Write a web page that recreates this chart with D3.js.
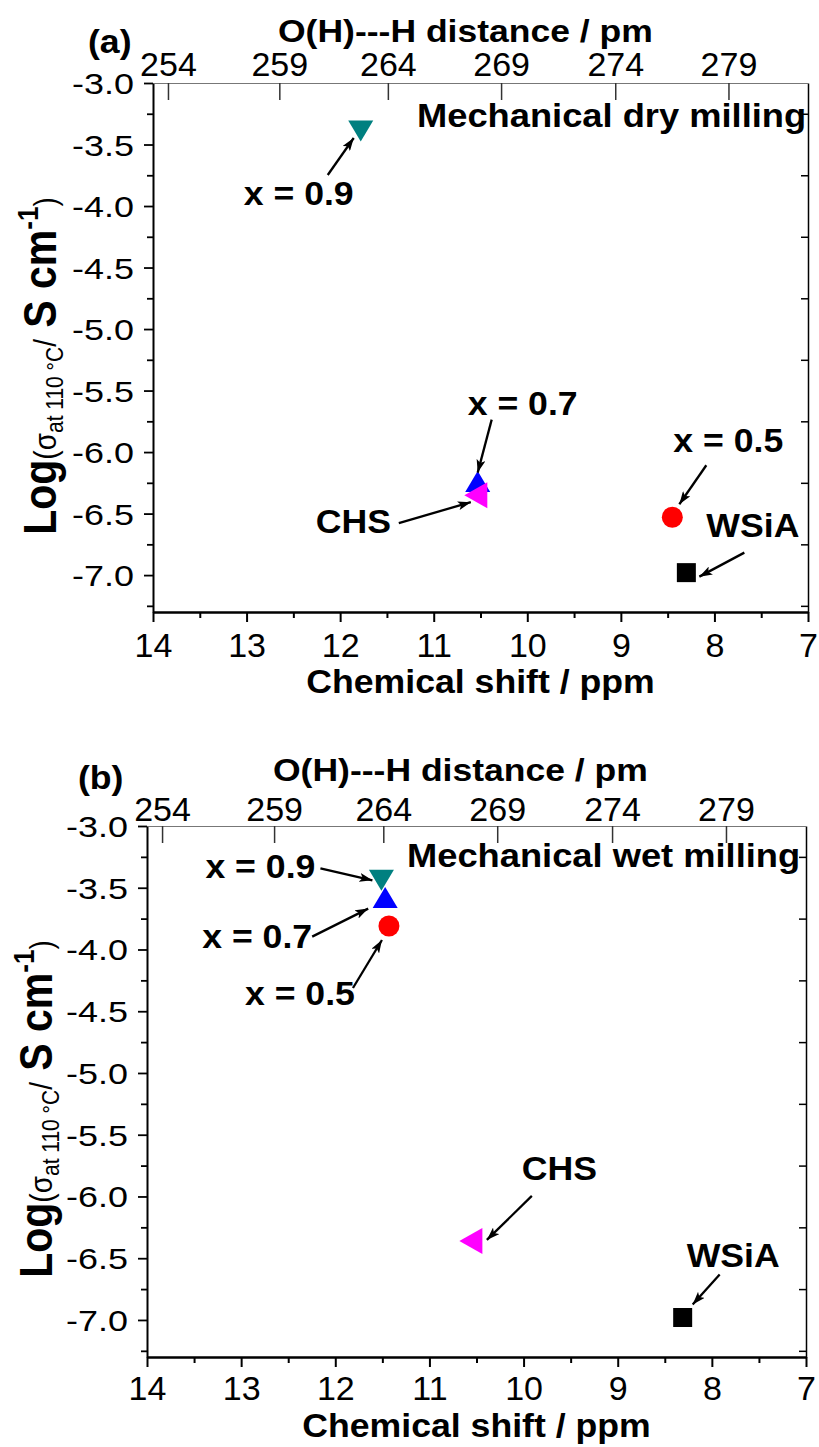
<!DOCTYPE html>
<html>
<head>
<meta charset="utf-8">
<script src="https://cdnjs.cloudflare.com/ajax/libs/d3/7.8.5/d3.min.js"></script>
<style>
  body { margin: 0; background: #fff; }
  svg { display: block; font-family: "Liberation Sans", Arial, sans-serif; }
</style>
</head>
<body>
<svg width="819" height="1447"></svg>
<script>
// samples, in the order both panels list them
const samples = ["WSiA", "x = 0.5", "x = 0.7", "x = 0.9", "CHS"];
const symbolShapes = ["square", "circle", "triangleUp", "triangleDown", "triangleLeft"];
const symbolColors = ["#000000", "#ff0000", "#0000ff", "#008080", "#ff00ff"];

// (a) mechanical dry milling: 1H chemical shift (ppm) and log conductivity at 110 C
const dryShift = [8.30, 8.45, 10.53, 11.78, 10.55];
const dryLogSigma = [-6.98, -6.53, -6.24, -3.39, -6.35];

// (b) mechanical wet milling
const wetShift = [8.31, 11.43, 11.47, 11.51, 10.56];
const wetLogSigma = [-6.98, -3.81, -3.58, -3.44, -6.36];

// top axis: O(H)---H distance labels and the chemical shift each one sits at
const distanceLabels = [254, 259, 264, 269, 274, 279];
const distanceShift = [13.84, 12.65, 11.49, 10.28, 9.06, 7.85];

const shiftTicks = [14, 13, 12, 11, 10, 9, 8, 7];
const logTicks = [-3.0, -3.5, -4.0, -4.5, -5.0, -5.5, -6.0, -6.5, -7.0];

const panels = [
  {
    tag: "(a)", title: "Mechanical dry milling",
    shift: dryShift, logSigma: dryLogSigma,
    box: { left: 153, right: 808, top: 83, bottom: 612 },
    tagAt: [88, 53], titleAt: [417, 127], topTitleAt: [278, 42],
    topLabelPad: 7, xLabelPad: 11, xTitleY: 693, yTitleAt: [56, 366],
    // per sample: label [dx, dy], arrow tail, arrow head (offsets from the symbol)
    notes: [
      [[20, -36], [58, -20], [13, 4]],
      [[1, -65], [34, -52], [7, -13]],
      [[-10, -67], [14, -62], [0, -9]],
      [[-117, 74], [-33, 44], [-7, 7]],
      [[-160, 38], [-77, 28], [-5, 7]]
    ]
  },
  {
    tag: "(b)", title: "Mechanical wet milling",
    shift: wetShift, logSigma: wetLogSigma,
    box: { left: 147, right: 806, top: 826, bottom: 1357 },
    tagAt: [78, 789], titleAt: [407, 867], topTitleAt: [273, 781],
    topLabelPad: 5, xLabelPad: 9, xTitleY: 1437, yTitleAt: [52, 1109],
    notes: [
      [[4, -50], [37, -43], [10, -13]],
      [[-144, 79], [-36, 62], [-7, 14]],
      [[-183, 50], [-73, 39], [-17, 11]],
      [[-176, -2], [-61, -12], [-9, 0]],
      [[51, -61], [61, -45], [16, -1]]
    ]
  }
];

const svg = d3.select("svg");

svg.append("defs").append("marker")
  .attr("id", "head")
  .attr("viewBox", "0 0 13 9")
  .attr("refX", 13).attr("refY", 4.5)
  .attr("markerWidth", 13).attr("markerHeight", 9)
  .attr("markerUnits", "userSpaceOnUse")
  .attr("orient", "auto")
  .append("path")
  .attr("d", "M0,0L13,4.5L0,9L3,4.5Z")
  .attr("fill", "#000");

const symbolPath = (shape) => {
  switch (shape) {
    case "square": return "M-9.5,-9.5H9.5V9.5H-9.5Z";
    case "circle": return "M10.5,0A10.5,10.5 0 1,1 -10.5,0A10.5,10.5 0 1,1 10.5,0Z";
    case "triangleUp": return "M0,-10.5L12.5,10.5H-12.5Z";
    case "triangleDown": return "M0,10.5L12.5,-10.5H-12.5Z";
    default: return "M-11.5,0L11.5,-13V13Z";
  }
};

// text placed with a slight horizontal stretch, like the original figure fonts
const label = (sel, x, y, str, o = {}) =>
  sel.append("text")
    .attr("transform", `translate(${x},${y}) scale(${o.sx || 1.08},1)`)
    .attr("text-anchor", o.anchor || "start")
    .style("font-size", (o.size || 33) + "px")
    .style("font-weight", o.weight || "bold")
    .text(str);

const drawPanel = (p) => {
  const { left, right, top, bottom } = p.box;
  const g = svg.append("g");

  const x = d3.scaleLinear().domain([14, 7]).range([left, right]);
  const y = d3.scaleLinear().domain([-7.3, -3.0]).range([bottom, top]);

  const styleAxis = (sel) => sel.attr("font-size", null).attr("font-family", null)
    .style("color", "#000");

  // bottom axis: majors with labels, halves as minor ticks
  g.append("g")
    .attr("transform", `translate(0,${bottom})`)
    .call(d3.axisBottom(x).tickValues(d3.range(13.5, 7, -1)).tickSize(6).tickSizeOuter(0).tickFormat(""))
    .call(styleAxis)
    .call((a) => a.selectAll("line").attr("stroke-width", 2))
    .call((a) => a.select(".domain").attr("stroke-width", 2));

  g.append("g")
    .attr("transform", `translate(0,${bottom})`)
    .call(d3.axisBottom(x).tickValues(shiftTicks).tickSize(10).tickSizeOuter(0).tickPadding(p.xLabelPad)
      .tickFormat(d3.format("d")))
    .call(styleAxis)
    .call((a) => a.selectAll("line").attr("stroke-width", 2))
    .call((a) => a.select(".domain").attr("stroke-width", 2))
    .call((a) => a.selectAll("text").style("font-size", "34px"));

  // left axis
  g.append("g")
    .attr("transform", `translate(${left},0)`)
    .call(d3.axisLeft(y).tickValues(d3.range(-3.25, -7.3, -0.5)).tickSize(6).tickSizeOuter(0).tickFormat(""))
    .call(styleAxis)
    .call((a) => a.selectAll("line").attr("stroke-width", 1.8));

  g.append("g")
    .attr("transform", `translate(${left},0)`)
    .call(d3.axisLeft(y).tickValues(logTicks).tickSize(9).tickSizeOuter(0).tickFormat((d) => d.toFixed(1)))
    .call(styleAxis)
    .call((a) => a.selectAll("line").attr("stroke-width", 1.8))
    .call((a) => a.select(".domain").attr("stroke-width", 2))
    .call((a) => a.selectAll("text")
      .attr("x", null).attr("dy", null)
      .attr("transform", "translate(-19,10.5) scale(1.24,1)")
      .style("font-size", "29px"));

  // right axis: short inward ticks between the majors
  g.append("g")
    .attr("transform", `translate(${right},0)`)
    .call(d3.axisRight(y).tickValues(d3.range(-3.25, -7.3, -0.5)).tickSize(-7).tickSizeOuter(0).tickFormat(""))
    .call(styleAxis)
    .call((a) => a.selectAll("line").attr("stroke-width", 1.5))
    .call((a) => a.select(".domain").attr("stroke-width", 1.5));

  // top axis: O(H)---H distance, ticks pointing into the plot
  g.append("g")
    .attr("transform", `translate(0,${top})`)
    .call(d3.axisTop(x).tickValues(distanceShift).tickSize(-17).tickSizeOuter(0).tickPadding(p.topLabelPad)
      .tickFormat((d, i) => distanceLabels[i]))
    .call(styleAxis)
    .call((a) => a.selectAll("line").attr("stroke", "#333").attr("stroke-width", 1.5))
    .call((a) => a.select(".domain").attr("stroke", "#777").attr("stroke-width", 1.2))
    .call((a) => a.selectAll("text").style("font-size", "34px"));

  // axis titles and panel captions
  label(g, p.topTitleAt[0], p.topTitleAt[1], "O(H)---H distance / pm", { size: 32, sx: 1.11 });
  label(g, (left + right) / 2, p.xTitleY, "Chemical shift / ppm", { anchor: "middle" });
  label(g, p.tagAt[0], p.tagAt[1], p.tag);
  label(g, p.titleAt[0], p.titleAt[1], p.title, { sx: 1.1 });

  const yt = g.append("text")
    .attr("transform", `translate(${p.yTitleAt[0]},${p.yTitleAt[1]}) scale(1.12,1) rotate(-90)`)
    .attr("text-anchor", "middle");
  yt.append("tspan").style("font-size", "41px").style("font-weight", "bold").text("Log");
  yt.append("tspan").style("font-size", "28px").text("(σ");
  yt.append("tspan").style("font-size", "21px").attr("dy", 6).text("at 110 °C");
  yt.append("tspan").style("font-size", "28px").attr("dy", -6).text("/");
  yt.append("tspan").style("font-size", "41px").style("font-weight", "bold").text(" S cm");
  yt.append("tspan").style("font-size", "26px").style("font-weight", "bold").attr("dy", -16).text("-1");
  yt.append("tspan").style("font-size", "28px").attr("dy", 16).text(")");

  // symbols
  const pts = samples.map((s, i) => ({
    name: s, shape: symbolShapes[i], color: symbolColors[i],
    cx: x(p.shift[i]), cy: y(p.logSigma[i]), note: p.notes[i]
  }));

  g.selectAll("path.pt")
    .data(pts)
    .join("path")
    .attr("class", "pt")
    .attr("transform", (d) => `translate(${d.cx},${d.cy})`)
    .attr("d", (d) => symbolPath(d.shape))
    .attr("fill", (d) => d.color);

  // labels with arrows pointing at their symbol
  pts.forEach((d) => {
    const [t, tail, head] = d.note;
    label(g, d.cx + t[0], d.cy + t[1], d.name);
    g.append("line")
      .attr("x1", d.cx + tail[0]).attr("y1", d.cy + tail[1])
      .attr("x2", d.cx + head[0]).attr("y2", d.cy + head[1])
      .attr("stroke", "#000").attr("stroke-width", 2.3)
      .attr("marker-end", "url(#head)");
  });
};

panels.forEach(drawPanel);
</script>
</body>
</html>
